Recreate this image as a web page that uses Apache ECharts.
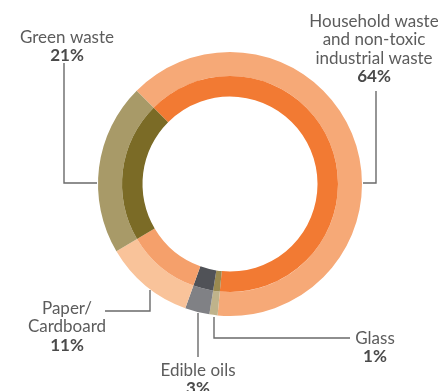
<!DOCTYPE html>
<html><head><meta charset="utf-8">
<script src="https://cdn.jsdelivr.net/npm/echarts@6/dist/echarts.min.js"></script>
<style>html,body{margin:0;padding:0;background:#fff}#c{width:438px;height:391px}</style>
</head><body><div id="c"></div>
<script>
// Data
const categories = ['Household waste and non-toxic industrial waste', 'Glass', 'Edible oils', 'Paper/Cardboard', 'Green waste'];
const labelNames = ['Household waste\nand non-toxic\nindustrial waste', 'Glass', 'Edible oils', 'Paper/\nCardboard', 'Green waste'];
const shares = [64, 1, 3, 11, 21];

// Styles
const outerColors = ['#F6A977', '#BFB38B', '#808185', '#F9C39A', '#A89A68'];
const innerColors = ['#F27A33', '#9A8A50', '#505257', '#F5A06B', '#7B6B26'];
const labelPos = [
  {x: 374, y: 12, line: [[363, 183], [376, 183], [376, 91]]},
  {x: 375, y: 329, line: [[214, 317], [214, 338], [350, 338]]},
  {x: 198, y: 361, line: [[198, 313], [198, 335], [198, 357]]},
  {x: 67, y: 299, line: [[150, 290], [150, 311], [105, 311]]},
  {x: 67, y: 28, line: [[97, 183], [64, 183], [64, 63]]}
];

const chart = echarts.init(document.getElementById('c'), null, {renderer: 'canvas'});
const center = [230, 184];
chart.setOption({
  animation: false,
  series: [
    {
      type: 'pie', center: center, radius: [108, 132], startAngle: 135, clockwise: true,
      silent: true,
      itemStyle: {borderWidth: 0},
      data: categories.map((c, i) => ({name: c, value: shares[i], itemStyle: {color: outerColors[i]}})),
      label: {
        show: true, position: 'outside', overflow: 'none', alignTo: 'none', edgeDistance: 0, bleedMargin: 0,
        formatter: p => labelNames[p.dataIndex].split('\n').map(s => '{n|' + s + '}').join('\n') + '\n{p|' + shares[p.dataIndex] + '%}',
        rich: {
          n: {fontFamily: 'Lato', fontSize: 17, lineHeight: 18.5, color: '#5c5c5c', align: 'center'},
          p: {fontFamily: 'Lato', fontSize: 17, fontWeight: 'bold', lineHeight: 19, color: '#4a4a4a', align: 'center'}
        }
      },
      labelLine: {show: true, lineStyle: {color: '#6a6a6a', width: 1.4}},
      labelLayout: function (params) {
        const lp = labelPos[params.dataIndex];
        return {x: lp.x, y: lp.y, width: 200, align: 'center', verticalAlign: 'top', labelLinePoints: lp.line, moveOverlap: null, hideOverlap: false};
      }
    },
    {
      type: 'pie', center: center, radius: [87.5, 108], startAngle: 135, clockwise: true,
      silent: true,
      itemStyle: {borderWidth: 0},
      data: categories.map((c, i) => ({name: c, value: shares[i], itemStyle: {color: innerColors[i]}})),
      label: {show: false}, labelLine: {show: false}
    }
  ]
});
</script></body></html>
